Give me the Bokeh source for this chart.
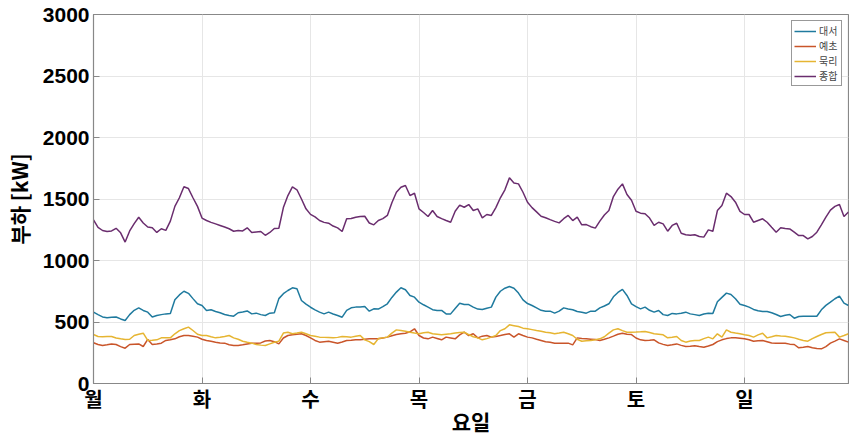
from bokeh.plotting import figure
from bokeh.models import FixedTicker, Legend, LegendItem, ColumnDataSource
from bokeh.embed import file_html
from bokeh.resources import INLINE

day_labels = ["월", "화", "수", "목", "금", "토", "일"]
hours = list(range(168))

total = [1330, 1270, 1244, 1235, 1240, 1262, 1225, 1150, 1240, 1300, 1352, 1305, 1272, 1266, 1228, 1258, 1245, 1320, 1440, 1510, 1600, 1585, 1510, 1440,
         1345, 1325, 1310, 1298, 1285, 1272, 1258, 1238, 1244, 1240, 1266, 1228, 1232, 1236, 1205, 1228, 1260, 1262, 1430, 1528, 1598, 1575, 1500, 1420,
         1375, 1355, 1325, 1310, 1303, 1280, 1265, 1236, 1340, 1342, 1352, 1358, 1360, 1305, 1290, 1325,
         1340, 1366, 1470, 1555, 1595, 1610, 1528, 1547, 1420, 1390, 1358, 1406, 1358, 1340, 1325, 1311, 1400, 1450, 1433, 1455, 1406, 1420, 1347, 1374, 1366, 1430, 1510, 1575, 1672, 1630, 1623, 1555,
         1474, 1430, 1395, 1360, 1348, 1332, 1318, 1306, 1340, 1366, 1325, 1352, 1290, 1292, 1275, 1263, 1320, 1370, 1406, 1520, 1580, 1623, 1537, 1490,
         1400, 1385, 1380, 1345, 1285, 1311, 1298, 1238, 1285, 1303, 1222, 1210, 1205, 1209, 1195, 1190, 1249, 1238, 1406, 1447, 1547, 1520, 1474, 1400,
         1374, 1374, 1311, 1325, 1339, 1311, 1270, 1230, 1266, 1260, 1257, 1230, 1203, 1203, 1176, 1195, 1230, 1290, 1352, 1410, 1440, 1455, 1358, 1395]

daeseo = [580, 560, 541, 535, 538, 541, 525, 512, 560, 595, 615, 594, 580, 541, 553, 560, 566, 570, 680, 720, 750, 733, 690, 648,
          634, 594, 599, 585, 575, 561, 553, 547, 575, 582, 590, 566, 572, 560, 553, 572, 575, 690, 730, 756, 778, 770, 675, 645,
          620, 599, 580, 566, 580, 565, 553, 539, 594, 615, 621, 621, 626, 588, 607, 605,
          625, 648, 700, 743, 778, 762, 716, 702, 661, 640, 621, 600, 594, 594, 566, 566, 610, 653, 642, 642, 621, 605, 602, 612, 621, 702, 750, 775, 788, 775, 735, 680,
          650, 634, 615, 595, 588, 588, 572, 588, 615, 605, 599, 585, 580, 572, 588, 588, 615, 630, 648, 705, 740, 765, 716, 648,
          625, 607, 621, 595, 580, 594, 560, 553, 570, 566, 572, 580, 566, 560, 553, 565, 572, 570, 664, 700, 735, 724, 689, 645,
          634, 621, 602, 592, 585, 585, 575, 561, 545, 555, 561, 531, 545, 547, 547, 547, 547, 599, 635, 661, 689, 710, 653, 634]

yecho = [331, 317, 309, 315, 322, 317, 300, 287, 317, 320, 322, 301, 358, 317, 322, 328, 350, 356, 363, 380, 390, 390, 385, 377,
         360, 350, 343, 336, 330, 328, 315, 309, 309, 315, 322, 328, 328, 330, 345, 350, 340, 322, 370, 390, 396, 400, 404, 390,
         371, 350, 336, 340, 344, 336, 328, 338, 350, 352, 355, 355, 360, 363, 363, 363,
         370, 377, 388, 398, 404, 409, 420, 445, 390, 370, 363, 377, 366, 355, 377, 370, 363, 395, 417, 390, 404, 371, 385, 390, 377, 383, 390, 398, 404, 377, 404, 390,
         377, 371, 360, 350, 340, 336, 328, 328, 328, 328, 314, 371, 365, 363, 360, 357, 350, 360, 371, 385, 400, 409, 400, 398,
         370, 355, 350, 352, 355, 330, 318, 309, 315, 322, 310, 301, 303, 306, 300, 295, 305, 317, 340, 355, 365, 371, 371, 367,
         363, 355, 344, 347, 350, 340, 330, 328, 328, 328, 320, 317, 290, 295, 301, 290, 285, 282, 300, 328, 345, 363, 350, 336]

mukri = [398, 382, 380, 382, 382, 370, 363, 358, 360, 390, 400, 409, 350, 352, 355, 371, 371, 371, 404, 430, 445, 458, 431, 400,
         390, 390, 380, 371, 376, 382, 390, 371, 360, 344, 335, 328, 317, 312, 309, 322, 335, 344, 410, 417, 404, 410, 417, 404,
         390, 385, 377, 375, 373, 371, 375, 382, 380, 377, 385, 390, 355, 340, 317, 365,
         371, 377, 410, 436, 431, 425, 417, 410, 404, 412, 417, 404, 400, 396, 400, 404, 410, 415, 417, 398, 380, 371, 355, 365, 377, 390, 430, 445, 477, 470, 463, 450,
         445, 438, 431, 425, 417, 412, 404, 410, 417, 405, 390, 360, 344, 348, 350, 356, 363, 380, 410, 436, 445, 430, 417, 417,
         418, 420, 423, 414, 404, 400, 396, 371, 376, 382, 350, 336, 345, 350, 350, 365, 377, 363, 404, 377, 436, 417, 410, 404,
         396, 390, 377, 395, 409, 371, 380, 390, 387, 385, 378, 371, 360, 350, 344, 365, 382, 398, 412, 415, 417, 377, 390, 404]

series_names = ["대서", "예초", "묵리", "종합"]
series_vals = [daeseo, yecho, mukri, total]
colors = ["#1f7a9e", "#c9552a", "#e6b532", "#6a2d6e"]
x_title = "요일"
y_title = "부하 [kW]"

p = figure(width=849, height=439, output_backend="svg", toolbar_location=None,
           x_range=(0, 167), y_range=(0, 3000),
           min_border_left=91, min_border_right=1, min_border_top=14, min_border_bottom=56)
p.outline_line_color = "#888888"
p.outline_line_width = 1.2
p.background_fill_color = "white"
p.border_fill_color = "white"

items = []
for name, vals, c in zip(series_names, series_vals, colors):
    src = ColumnDataSource(dict(x=hours, y=vals))
    r = p.line("x", "y", source=src, line_color=c, line_width=1.5)
    items.append(LegendItem(label=name, renderers=[r]))

legend = Legend(items=items, location="top_right")
legend.label_text_font = "Noto Sans CJK KR"
legend.label_text_font_size = "10px"
legend.label_height = 10
legend.glyph_height = 10
legend.glyph_width = 22
legend.spacing = 0
legend.padding = 2
legend.margin = 6
legend.label_standoff = 3
legend.border_line_color = "#333333"
legend.border_line_width = 1
legend.background_fill_alpha = 1
p.add_layout(legend)

p.xaxis.ticker = FixedTicker(ticks=[24 * i for i in range(7)])
p.xaxis.major_label_overrides = {24 * i: lab for i, lab in enumerate(day_labels)}
p.yaxis.ticker = FixedTicker(ticks=[0, 500, 1000, 1500, 2000, 2500, 3000])

for ax in (p.xaxis[0], p.yaxis[0]):
    ax.axis_line_color = "#888888"
    ax.major_tick_line_color = "#888888"
    ax.major_tick_in = 6
    ax.major_tick_out = 0
    ax.minor_tick_line_color = None
    ax.major_label_text_font_style = "bold"
    ax.major_label_text_color = "black"
    ax.axis_label_text_font_style = "bold"
    ax.axis_label_text_color = "black"
    ax.axis_label_text_font_size = "21px"

p.xaxis.major_label_text_font = "Noto Sans CJK KR"
p.xaxis.major_label_text_font_size = "20px"
p.xaxis.major_label_standoff = 0
p.xaxis.axis_label = x_title
p.xaxis.axis_label_text_font = "Noto Sans CJK KR"
p.xaxis.axis_label_standoff = -10

p.yaxis.major_label_text_font = "Liberation Sans"
p.yaxis.major_label_text_font_size = "21px"
p.yaxis.major_label_standoff = 4
p.yaxis.axis_label = y_title
p.yaxis.axis_label_text_font = "Noto Sans CJK KR"
p.yaxis.axis_label_standoff = 6

p.xgrid.grid_line_color = "#e6e6e6"
p.ygrid.grid_line_color = "#e6e6e6"

open("out.html", "w").write(file_html(p, INLINE))
